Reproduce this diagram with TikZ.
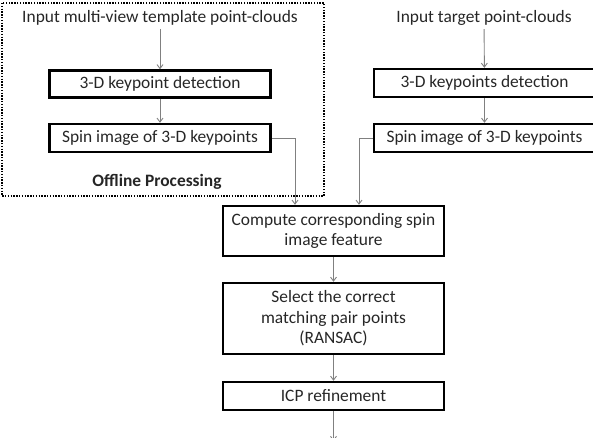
\documentclass[tikz,border=0pt]{standalone}
\usepackage{fontspec}
\setmainfont{Carlito}
\usetikzlibrary{arrows.meta}
\tikzset{
	stage/.style={draw=black,line width=2.4pt,minimum width=221pt,inner sep=0pt,align=center,text=black!85},
	flow/.style={gray,line width=0.9pt,-{Straight Barb[length=4pt,width=6pt]}}
}

\begin{document}
\begin{tikzpicture}[x=1pt,y=-1pt,font=\fontsize{17.4}{20.6}\selectfont]
	\useasboundingbox (0,0) rectangle (593,437);
	
	\draw[line width=1.6pt,dash pattern=on 1.4pt off 1.4pt] (2,3) rectangle (324,196);
	\node[text=black!85] at (157,182) {\textbf{Offline Processing}};
	
	\node[text=black!85] at (160,18) (inL) {Input multi-view template point-clouds};
	\node[text=black!85] at (484,18) (inR) {Input target point-clouds};
	
	\node[stage,minimum height=27pt] at (160,84) (detL) {3-D keypoint detection};
	\node[stage,minimum height=28pt] at (160,138) (spinL) {Spin image of 3-D keypoints};
	\node[stage,minimum height=28pt] at (484.5,83) (detR) {3-D keypoints detection};
	\node[stage,minimum height=28pt] at (484.5,138) (spinR) {Spin image of 3-D keypoints};
	
	\node[stage,minimum height=50pt] at (333.5,231) (match) {Compute corresponding spin\\image feature};
	\node[stage,minimum height=71pt] at (333.5,318.5) (ransac) {Select the correct\\matching pair points\\(RANSAC)};
	\node[stage,minimum height=28pt] at (333.5,396) (icp) {ICP refinement};
	\coordinate (out) at (333.5,441);
	
	\draw[flow] (inL) -- (detL);
	\draw[flow] (detL) -- (spinL);
	\draw[flow] (inR) -- (detR);
	\draw[flow] (detR) -- (spinR);
	\draw[flow] (spinL.east) -| ([xshift=-38.5pt]match.north);
	\draw[flow] (spinR.west) -| ([xshift=25.5pt]match.north);
	\draw[flow] (match) -- (ransac);
	\draw[flow] (ransac) -- (icp);
	\draw[flow] (icp) -- (out);
\end{tikzpicture}
\end{document}
